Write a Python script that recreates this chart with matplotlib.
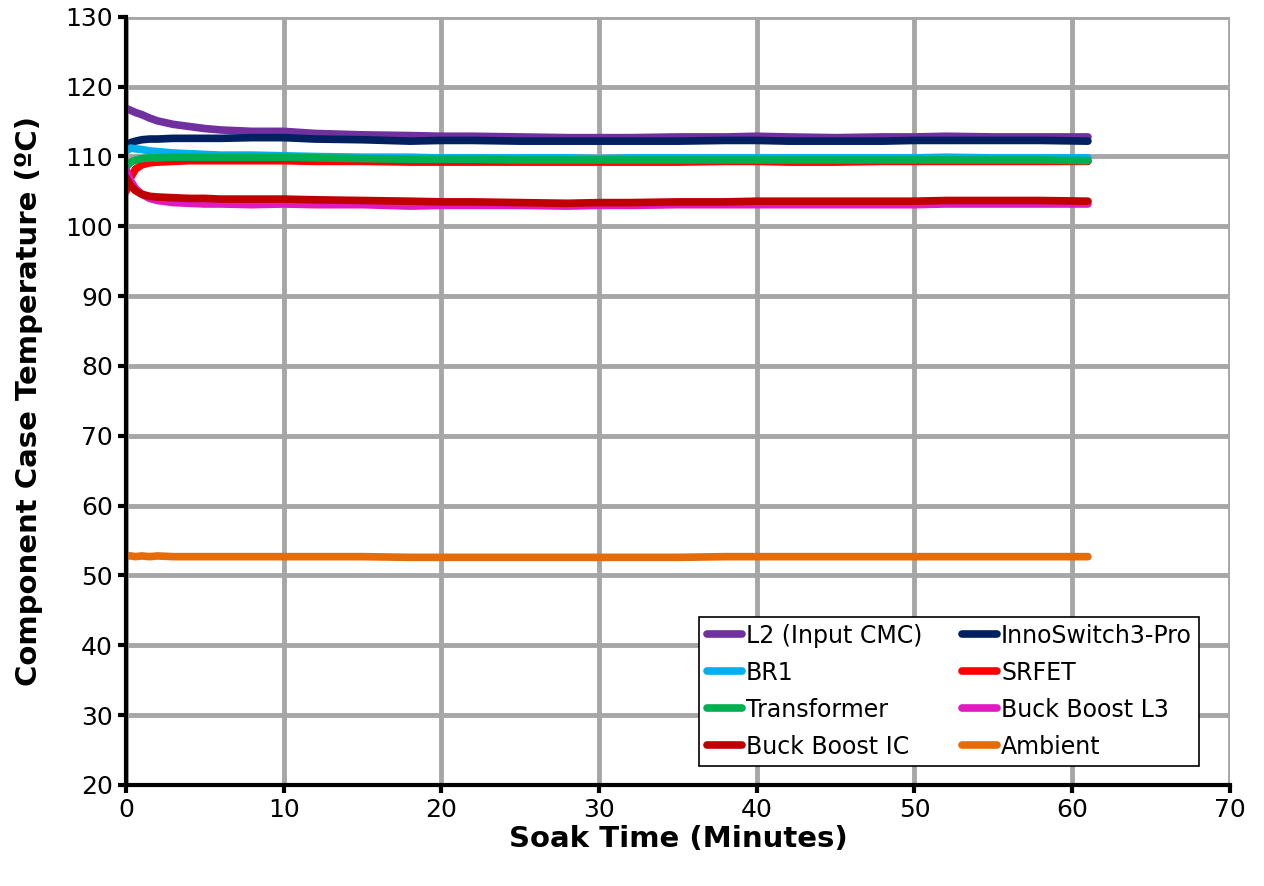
import matplotlib
matplotlib.use("Agg")
import matplotlib.pyplot as plt

time_min = [0, 0.3, 0.6, 1, 1.5, 2, 3, 4, 5, 6, 8, 10, 12, 15, 18, 20, 22, 25, 28,
            30, 32, 35, 38, 40, 42, 45, 48, 50, 52, 55, 58, 61]

l2 = [116.9, 116.6, 116.3, 116.0, 115.5, 115.1, 114.6, 114.3, 114.0, 113.8, 113.6, 113.6,
      113.3, 113.1, 113.0, 112.9, 112.9, 112.8, 112.7, 112.7, 112.7, 112.8, 112.8, 112.9,
      112.8, 112.7, 112.8, 112.8, 112.9, 112.8, 112.8, 112.8]
inno = [111.5, 112.0, 112.2, 112.4, 112.5, 112.5, 112.6, 112.6, 112.6, 112.6, 112.7, 112.7,
        112.5, 112.4, 112.2, 112.3, 112.3, 112.2, 112.2, 112.2, 112.2, 112.2, 112.3, 112.3,
        112.2, 112.2, 112.2, 112.3, 112.3, 112.3, 112.3, 112.2]
br1 = [110.8, 111.2, 111.1, 111.0, 110.8, 110.7, 110.5, 110.4, 110.3, 110.2, 110.2, 110.1,
       110.0, 109.9, 109.9, 109.8, 109.8, 109.8, 109.8, 109.7, 109.8, 109.8, 109.8, 109.8,
       109.8, 109.8, 109.8, 109.8, 109.9, 109.8, 109.8, 109.8]
transformer = [108.5, 109.2, 109.5, 109.7, 109.8, 109.8, 109.9, 109.9, 109.9, 109.9, 109.9, 109.9,
               109.8, 109.7, 109.6, 109.6, 109.6, 109.5, 109.5, 109.5, 109.5, 109.5, 109.5, 109.5,
               109.5, 109.5, 109.5, 109.5, 109.5, 109.5, 109.5, 109.4]
srfet = [105.0, 107.0, 108.2, 108.8, 109.1, 109.2, 109.3, 109.4, 109.4, 109.4, 109.4, 109.4,
         109.3, 109.3, 109.2, 109.2, 109.2, 109.2, 109.2, 109.2, 109.2, 109.2, 109.3, 109.3,
         109.2, 109.2, 109.3, 109.3, 109.3, 109.3, 109.3, 109.3]
bb_l3 = [108.1, 106.5, 105.4, 104.6, 104.0, 103.7, 103.4, 103.3, 103.2, 103.2, 103.1, 103.2,
         103.1, 103.1, 102.9, 103.0, 103.0, 103.0, 102.9, 103.0, 103.0, 103.1, 103.1, 103.1,
         103.1, 103.1, 103.1, 103.1, 103.2, 103.2, 103.2, 103.2]
bb_ic = [107.0, 105.8, 105.1, 104.6, 104.3, 104.2, 104.1, 104.0, 104.0, 103.9, 103.9, 103.9,
         103.8, 103.7, 103.6, 103.5, 103.5, 103.4, 103.3, 103.4, 103.4, 103.5, 103.5, 103.6,
         103.6, 103.6, 103.6, 103.6, 103.7, 103.7, 103.7, 103.6]
ambient = [52.8, 52.8, 52.7, 52.8, 52.7, 52.8, 52.7, 52.7, 52.7, 52.7, 52.7, 52.7,
           52.7, 52.7, 52.6, 52.6, 52.6, 52.6, 52.6, 52.6, 52.6, 52.6, 52.7, 52.7,
           52.7, 52.7, 52.7, 52.7, 52.7, 52.7, 52.7, 52.7]

series = [
    ("L2 (Input CMC)", l2, "#7030A0"),
    ("InnoSwitch3-Pro", inno, "#002060"),
    ("BR1", br1, "#00B0F0"),
    ("SRFET", srfet, "#FF0000"),
    ("Transformer", transformer, "#00B050"),
    ("Buck Boost L3", bb_l3, "#E01AC0"),
    ("Buck Boost IC", bb_ic, "#C00000"),
    ("Ambient", ambient, "#E46C0A"),
]
draw_order = ["Ambient", "L2 (Input CMC)", "InnoSwitch3-Pro", "BR1", "SRFET",
              "Transformer", "Buck Boost L3", "Buck Boost IC"]

fig = plt.figure(figsize=(12.64, 8.86), dpi=100)
ax = fig.add_axes([0.0997, 0.114, 0.8733, 0.867])

handles = {}
for name in draw_order:
    for n, vals, c in series:
        if n == name:
            h, = ax.plot(time_min, vals, color=c, lw=5.5, solid_capstyle="round", label=n)
            handles[n] = h

ax.set_xlim(0, 70)
ax.set_ylim(20, 130)
ax.set_xticks(range(0, 71, 10))
ax.set_yticks(range(20, 131, 10))
ax.grid(True, color="#A6A6A6", lw=3.5)
ax.set_axisbelow(True)
for s in ["top", "right"]:
    ax.spines[s].set_visible(False)
for s in ["left", "bottom"]:
    ax.spines[s].set_linewidth(3)
    ax.spines[s].set_color("black")
ax.tick_params(axis="both", labelsize=18, width=3, length=6, direction="out", color="black")
ax.set_xlabel("Soak Time (Minutes)", fontsize=21, fontweight="bold", labelpad=2)
ax.set_ylabel("Component Case Temperature (ºC)", fontsize=21, fontweight="bold", labelpad=16)

# row-major legend layout for 2 columns
names = [n for n, _, _ in series]
order = names[0::2] + names[1::2]
leg = ax.legend([handles[n] for n in order], order, ncol=2, loc="lower right",
                bbox_to_anchor=(0.972, 0.025), borderaxespad=0, fontsize=17, frameon=True,
                fancybox=False, edgecolor="black", framealpha=1, handlelength=1.5,
                handletextpad=0.15, columnspacing=1.7, labelspacing=0.55, borderpad=0.3)
leg.get_frame().set_linewidth(1.2)

fig.savefig("out.png", dpi=100)
